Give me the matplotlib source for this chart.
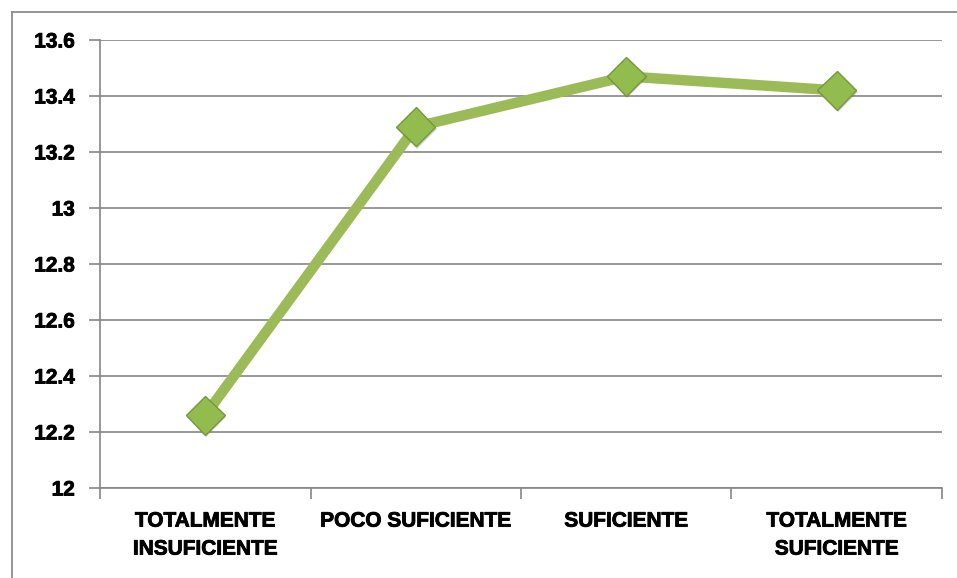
import matplotlib.pyplot as plt
import matplotlib.patheffects as pe
from matplotlib.lines import Line2D

categories = ['TOTALMENTE\nINSUFICIENTE', 'POCO SUFICIENTE', 'SUFICIENTE', 'TOTALMENTE\nSUFICIENTE']
values = [12.26, 13.29, 13.47, 13.42]
y_ticks = [12, 12.2, 12.4, 12.6, 12.8, 13, 13.2, 13.4, 13.6]
y_labels = ['12', '12.2', '12.4', '12.6', '12.8', '13', '13.2', '13.4', '13.6']

plt.rcParams['font.family'] = ['Liberation Sans', 'DejaVu Sans']

fig = plt.figure(figsize=(9.57, 5.78), dpi=100)
ax = fig.add_axes([100 / 957, 1 - 488 / 578, 842 / 957, 448 / 578])

# outer chart border (top and left edges are visible)
bx, by = 11.5 / 957, 1 - 11.5 / 578
fig.add_artist(Line2D([bx, 1.0], [by, by], transform=fig.transFigure, color='#8c8c8c', linewidth=1.3))
fig.add_artist(Line2D([bx, bx], [0, by], transform=fig.transFigure, color='#8c8c8c', linewidth=1.3))

x = list(range(len(categories)))
ax.plot(x, values, color='#9bbb59', linewidth=7.5, solid_capstyle='butt', zorder=3)
ax.plot(x, values, linestyle='none', marker='D', markersize=20, markerfacecolor='#92bd4e',
        markeredgecolor='#76983a', markeredgewidth=1.0, zorder=4,
        path_effects=[pe.SimplePatchShadow(offset=(0.8, -1.5), shadow_rgbFace='#666666', alpha=0.3), pe.Normal()])

ax.set_xlim(-0.5, len(categories) - 0.5)
ax.set_ylim(12, 13.6)
txt = dict(fontsize=15, fontweight='bold', color='#000000',
           path_effects=[pe.withStroke(linewidth=0.6, foreground='#000000')])
ax.set_yticks(y_ticks)
ax.set_yticklabels(y_labels, **txt)
ax.set_xticks([i - 0.5 for i in range(len(categories) + 1)], minor=False)
ax.set_xticklabels([])
ax.set_xticks(x, minor=True)
ax.set_xticklabels(categories, minor=True, linespacing=1.6, **txt)
ax.tick_params(axis='x', which='minor', length=0, pad=17)
ax.tick_params(axis='x', which='major', length=8, color='#868686', width=1.2)
ax.tick_params(axis='y', length=8, color='#868686', width=1.2, pad=10)

ax.grid(axis='y', color='#868686', linewidth=1.2)
ax.set_axisbelow(True)
for side in ['top', 'right']:
    ax.spines[side].set_visible(False)
ax.spines['left'].set_color('#868686')
ax.spines['bottom'].set_color('#868686')
ax.spines['left'].set_linewidth(1.2)
ax.spines['bottom'].set_linewidth(1.2)

plt.savefig('out.png', dpi=100)
